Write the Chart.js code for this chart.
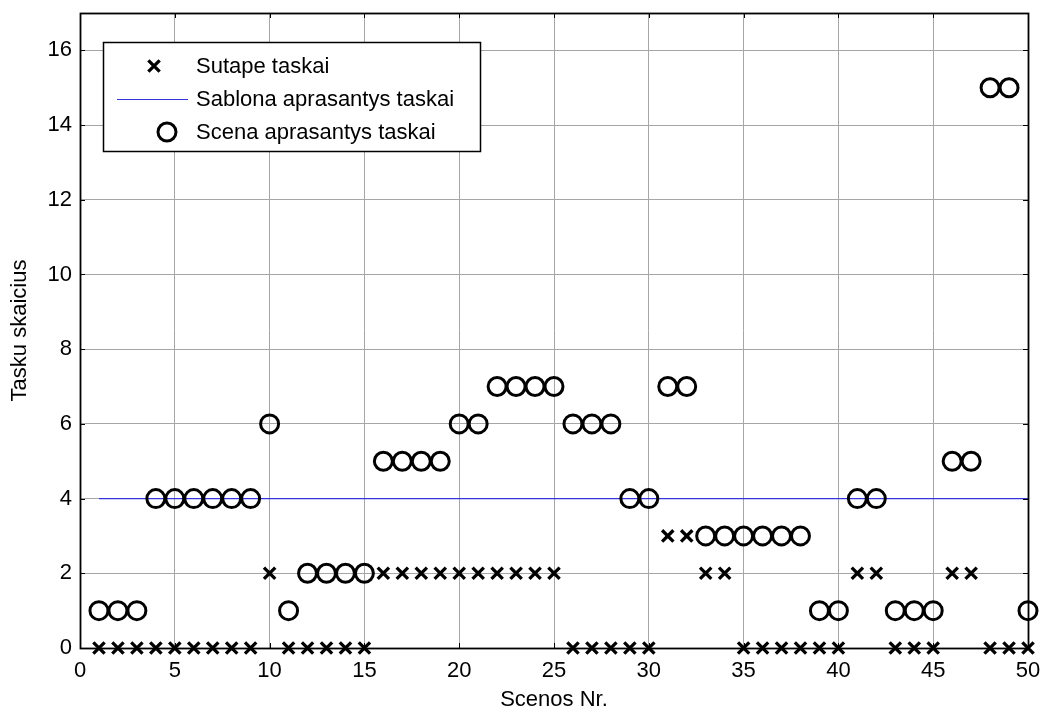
<!DOCTYPE html>
<html>
<head>
<meta charset="utf-8">
<script src="https://cdn.jsdelivr.net/npm/chart.js@4/dist/chart.umd.min.js"></script>
<style>
  html, body { margin: 0; padding: 0; background: #fff; }
  #wrap { width: 1042px; height: 709px; }
</style>
</head>
<body>
<div id="wrap"><canvas id="chart" width="1042" height="709"></canvas></div>
<script>
// scene numbers 1..50
const scenos = [1,2,3,4,5,6,7,8,9,10,11,12,13,14,15,16,17,18,19,20,21,22,23,24,25,
                26,27,28,29,30,31,32,33,34,35,36,37,38,39,40,41,42,43,44,45,46,47,48,49,50];
// matched points per scene
const sutape = [0,0,0,0,0,0,0,0,0,2,0,0,0,0,0,2,2,2,2,2,2,2,2,2,2,
                0,0,0,0,0,3,3,2,2,0,0,0,0,0,0,2,2,0,0,0,2,2,0,0,0];
// points describing each scene
const scena = [1,1,1,4,4,4,4,4,4,6,1,2,2,2,2,5,5,5,5,6,6,7,7,7,7,
               6,6,6,4,4,7,7,3,3,3,3,3,3,1,1,4,4,1,1,1,5,5,15,15,1];
// template descriptor count (constant)
const sablonaX = [1, 50];
const sablonaY = [4, 4];

const xTicks = [0,5,10,15,20,25,30,35,40,45,50];
const yTicks = [0,2,4,6,8,10,12,14,16];

const labels = ['Sutape taskai', 'Sablona aprasantys taskai', 'Scena aprasantys taskai'];

const font = { family: 'Arial, "Liberation Sans", sans-serif', size: 22 };
const titleFont = { family: font.family, size: 22, lineHeight: 1 };

const toPts = (xs, ys) => xs.map((x, i) => ({ x: x, y: ys[i] }));

// no extra room for edge labels, layout padding decides the plot box
function noPad(s) {
  s.paddingTop = 0; s.paddingBottom = 0; s.paddingLeft = 0; s.paddingRight = 0;
}

// axes box, inward tick marks and the legend
const framePlugin = {
  id: 'frame',
  afterDatasetsDraw(chart) {
    const { ctx, chartArea: a, scales } = chart;
    ctx.save();
    ctx.strokeStyle = '#000';
    ctx.lineWidth = 1;
    ctx.beginPath();
    xTicks.forEach(v => {
      const px = Math.round(scales.x.getPixelForValue(v)) + 0.5;
      ctx.moveTo(px, a.top); ctx.lineTo(px, a.top + 5);
      ctx.moveTo(px, a.bottom); ctx.lineTo(px, a.bottom - 5);
    });
    yTicks.forEach(v => {
      const py = Math.round(scales.y.getPixelForValue(v)) + 0.5;
      ctx.moveTo(a.left, py); ctx.lineTo(a.left + 5, py);
      ctx.moveTo(a.right, py); ctx.lineTo(a.right - 5, py);
    });
    ctx.stroke();
    ctx.lineWidth = 1.8;
    ctx.strokeRect(Math.round(a.left) + 0.5, Math.round(a.top) + 0.5,
                   Math.round(a.right - a.left), Math.round(a.bottom - a.top));

    // legend
    const box = { x: 103, y: 42, w: 377, h: 109 };
    ctx.fillStyle = '#fff';
    ctx.fillRect(box.x, box.y, box.w, box.h);
    ctx.lineWidth = 1.5;
    ctx.strokeStyle = '#000';
    ctx.strokeRect(box.x + 0.5, box.y + 0.5, box.w, box.h);

    const ds = chart.data.datasets;
    const rows = [66, 99, 132];
    // cross marker
    ctx.strokeStyle = ds[0].pointBorderColor;
    ctx.fillStyle = ds[0].pointBorderColor;
    ctx.lineWidth = ds[0].pointBorderWidth;
    Chart.helpers.drawPoint(ctx, {
      pointStyle: 'crossRot', radius: ds[0].pointRadius, borderWidth: ds[0].pointBorderWidth
    }, 154, rows[0]);
    // template line
    ctx.beginPath();
    ctx.strokeStyle = ds[1].borderColor;
    ctx.lineWidth = 1.2;
    ctx.moveTo(117, rows[1] + 0.5); ctx.lineTo(188, rows[1] + 0.5);
    ctx.stroke();
    // circle marker
    ctx.strokeStyle = ds[2].pointBorderColor;
    ctx.lineWidth = ds[2].pointBorderWidth;
    ctx.beginPath();
    ctx.arc(167, rows[2], ds[2].pointRadius, 0, Math.PI * 2);
    ctx.stroke();

    ctx.fillStyle = '#000';
    ctx.font = font.size + 'px ' + font.family;
    ctx.textBaseline = 'middle';
    ctx.textAlign = 'left';
    labels.forEach((t, i) => ctx.fillText(t, 196, rows[i] + 1));
    ctx.restore();
  }
};

new Chart(document.getElementById('chart'), {
  type: 'scatter',
  data: {
    datasets: [
      {
        label: labels[0],
        data: toPts(scenos, sutape),
        pointStyle: 'crossRot',
        pointRadius: 8,
        pointBorderWidth: 3.3,
        pointBorderColor: '#000',
        pointBackgroundColor: '#000',
        showLine: false,
        clip: false,
        order: 1
      },
      {
        label: labels[1],
        data: toPts(sablonaX, sablonaY),
        showLine: true,
        borderColor: '#3434e0',
        borderWidth: 1.2,
        pointRadius: 0,
        fill: false,
        clip: false,
        order: 2
      },
      {
        label: labels[2],
        data: toPts(scenos, scena),
        pointStyle: 'circle',
        pointRadius: 9,
        pointBorderWidth: 3,
        pointBorderColor: '#000',
        pointBackgroundColor: 'rgba(0,0,0,0)',
        showLine: false,
        clip: false,
        order: 0
      }
    ]
  },
  options: {
    responsive: false,
    animation: false,
    events: [],
    layout: { padding: { top: 13, right: 14, bottom: 0, left: 0 } },
    plugins: {
      legend: { display: false },
      tooltip: { enabled: false }
    },
    scales: {
      x: {
        type: 'linear',
        min: 0,
        max: 50,
        afterFit: s => { s.height = 61; noPad(s); },
        afterBuildTicks: s => { s.ticks = xTicks.map(v => ({ value: v })); },
        grid: { color: '#a6a6a6', lineWidth: 1, drawTicks: false },
        border: { display: false },
        ticks: { color: '#000', font: font, padding: 10, maxRotation: 0 },
        title: { display: true, text: 'Scenos Nr.', color: '#000', font: titleFont, padding: { top: 0, bottom: -2 } }
      },
      y: {
        min: 0,
        max: 17,
        afterFit: s => { s.width = 80; noPad(s); },
        afterBuildTicks: s => { s.ticks = yTicks.map(v => ({ value: v })); },
        grid: { color: '#a6a6a6', lineWidth: 1, drawTicks: false },
        border: { display: false },
        ticks: { color: '#000', font: font, padding: 8 },
        title: { display: true, text: 'Tasku skaicius', color: '#000', font: titleFont, padding: { top: 9, bottom: 0 } }
      }
    }
  },
  plugins: [framePlugin]
});
</script>
</body>
</html>
